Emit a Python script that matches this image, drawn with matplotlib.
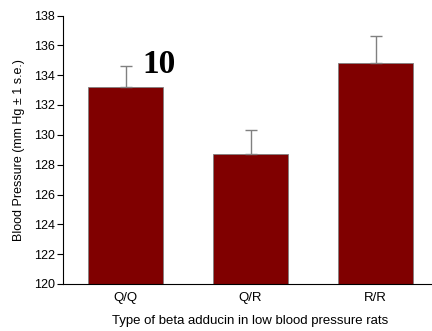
import matplotlib
matplotlib.use("Agg")
import matplotlib.pyplot as plt

genotypes = ["Q/Q", "Q/R", "R/R"]
pressure = [133.2, 128.7, 134.8]
std_err = [1.4, 1.6, 1.8]

plt.rcParams["font.family"] = ["Liberation Sans", "DejaVu Sans"]

fig = plt.figure(figsize=(4.32, 3.31), dpi=100)
ax = fig.add_axes([63 / 432, 47 / 331, 375 / 432, 268.5 / 331])

x = range(len(genotypes))
ax.bar(x, [p - 120 for p in pressure], bottom=120, width=0.6, color="#800000",
       edgecolor="#808080", linewidth=0.6)
ax.errorbar(x, pressure, yerr=[[0] * len(std_err), std_err], fmt="none",
            ecolor="#808080", elinewidth=1.0, capsize=4, capthick=1.0)

ax.set_xlim(-0.5, 2.5)
ax.set_ylim(120, 138)
ax.set_yticks(range(120, 139, 2))
ax.set_xticks(list(x))
ax.set_xticklabels(genotypes)
ax.tick_params(axis="x", length=0, pad=6, labelsize=9.5)
ax.tick_params(axis="y", direction="out", length=4, width=0.8, labelsize=9, pad=2)
ax.spines["top"].set_visible(False)
ax.spines["right"].set_visible(False)
ax.spines["left"].set_linewidth(0.8)
ax.spines["bottom"].set_linewidth(0.8)

ax.set_ylabel("Blood Pressure (mm Hg \u00b1 1 s.e.)", fontsize=9, labelpad=6)
ax.set_xlabel("Type of beta adducin in low blood pressure rats", fontsize=9.5, labelpad=8)

ax.text(0.27, 134.15, "10", fontsize=24, fontweight="bold", ha="center", va="baseline",
        family=["Liberation Serif", "DejaVu Serif"])

fig.savefig("out.png", dpi=100)
